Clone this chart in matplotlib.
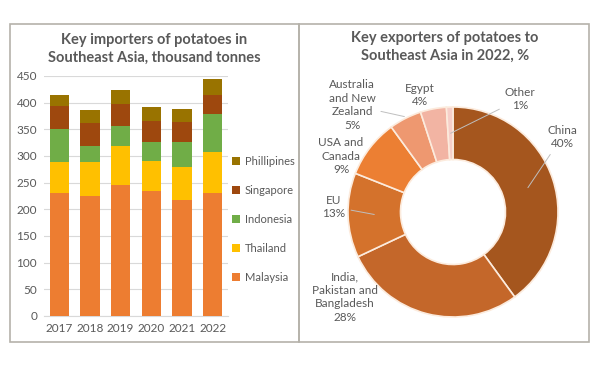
import matplotlib
matplotlib.use("Agg")
import matplotlib.pyplot as plt
import numpy as np
from matplotlib.patches import Rectangle

plt.rcParams['font.family'] = ['Lato', 'DejaVu Sans']

# ============================================================
# Data
# ============================================================
years = ["2017", "2018", "2019", "2020", "2021", "2022"]
countries = ["Malaysia", "Thailand", "Indonesia", "Singapore", "Phillipines"]
malaysia = [231, 225, 246, 234, 217, 231]
thailand = [58, 63, 73, 56, 62, 76]
indonesia = [62, 31, 38, 37, 47, 71]
singapore = [43, 43, 41, 39, 38, 37]
phillipines = [20, 24, 25, 26, 24, 29]
bar_colors = ["#ED7D31", "#FFC000", "#70AD47", "#9E480E", "#997300"]

exporters = ["China", "India,\nPakistan and\nBangladesh", "EU", "USA and\nCanada",
             "Australia\nand New\nZealand", "Egypt", "Other"]
shares = [40, 28, 13, 9, 5, 4, 1]
pie_colors = ["#A5561E", "#C4672A", "#D4722C", "#EC7F33", "#EE9870", "#F2B4A3", "#F6CFC9"]

txt = "#595959"
W, H = 600, 378

fig = plt.figure(figsize=(6, 3.78), dpi=100)

# panel boxes
for x0, x1 in [(10, 299), (299, 589)]:
    fig.patches.append(Rectangle((x0 / W, 1 - 342 / H), (x1 - x0) / W, (342 - 24) / H,
                                 transform=fig.transFigure, fill=False,
                                 edgecolor="#b5b2aa", linewidth=1.2))

# ============================================================
# Stacked bars
# ============================================================
ax = fig.add_axes([44 / W, 1 - 316 / H, 184 / W, 240 / H])
series = [malaysia, thailand, indonesia, singapore, phillipines]
x = np.arange(len(years))
bottom = np.zeros(len(years))
handles = []
for name, vals, c in zip(countries, series, bar_colors):
    b = ax.bar(x, vals, 0.62, bottom=bottom, color=c, label=name, zorder=3)
    handles.append(b)
    bottom += np.array(vals)

ax.set_xlim(-0.5, 5.5)
ax.set_ylim(0, 450)
ax.set_yticks(range(0, 451, 50))
ax.set_xticks(x, years)
ax.grid(axis="y", color="#D9D9D9", linewidth=0.8, zorder=0)
for s in ["top", "right", "left"]:
    ax.spines[s].set_visible(False)
ax.spines["bottom"].set_color("#D9D9D9")
ax.tick_params(length=0, labelsize=8.5, colors=txt, pad=5)

leg = fig.legend(handles[::-1], countries[::-1], loc="upper left",
                 bbox_to_anchor=(222 / W, 1 - 146 / H), frameon=False,
                 fontsize=8, handlelength=0.7, handleheight=0.7,
                 handletextpad=0.45, labelspacing=1.62, labelcolor=txt)

fig.text(154 / W, 1 - 49 / H, "Key importers of potatoes in\nSoutheast Asia, thousand tonnes",
         ha="center", va="center", fontsize=10.5, fontweight="bold", color=txt,
         linespacing=1.3)

# ============================================================
# Donut
# ============================================================
cx, cy, r = 453, 212, 105
half = 135
pax = fig.add_axes([(cx - half) / W, 1 - (cy + half) / H, 2 * half / W, 2 * half / H])
wedges, _ = pax.pie(shares, colors=pie_colors, startangle=90, counterclock=False,
                    wedgeprops=dict(width=0.5, edgecolor="#FCEBDD", linewidth=1.2))
lim = half / r
pax.set_xlim(-lim, lim)
pax.set_ylim(-lim, lim)
pax.set_aspect("equal")

label_pos = {
    "China": (562, 137),
    "India": (345, 297),
    "EU": (334, 207),
    "USA": (341, 156),
    "Australia": (352, 105),
    "Egypt": (420, 95),
    "Other": (520, 99),
}
leader_r = {"China": 0.75, "EU": 0.75, "Australia": 1.02, "Other": 0.75}

cum = 0
for name, val, w in zip(exporters, shares, wedges):
    key = name.split()[0].rstrip(",")
    px, py = label_pos[key]
    lx, ly = (px - cx) / r, (cy - py) / r
    mid = np.deg2rad(90 - (cum + val / 2) / sum(shares) * 360)
    cum += val
    label = f"{name}\n{val}%"
    if key in leader_r:
        rr = leader_r[key]
        pax.annotate(label, xy=(rr * np.cos(mid), rr * np.sin(mid)), xytext=(lx, ly),
                     ha="center", va="center", fontsize=8.5, color=txt, linespacing=1.3,
                     arrowprops=dict(arrowstyle="-", color="#BFBFBF", linewidth=0.7,
                                     shrinkA=2, shrinkB=0),
                     annotation_clip=False)
    else:
        pax.text(lx, ly, label, ha="center", va="center", fontsize=8.5, color=txt,
                 linespacing=1.3)

fig.text(445 / W, 1 - 47 / H, "Key exporters of potatoes to\nSoutheast Asia in 2022, %",
         ha="center", va="center", fontsize=10.5, fontweight="bold", color=txt,
         linespacing=1.3)

fig.savefig("out.png", dpi=100)
